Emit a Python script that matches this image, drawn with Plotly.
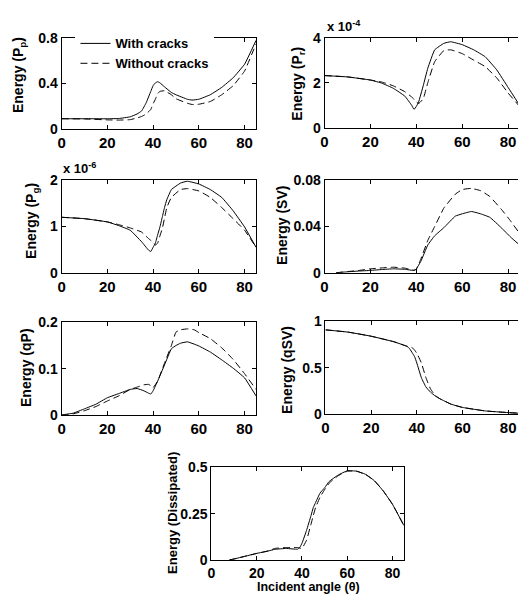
import plotly.graph_objects as go

# ---------------- data: energy partition vs incident angle (degrees) ----------------
pp_angle = [0, 10, 20, 25, 30, 33, 35, 37, 39, 40, 41, 42, 43, 45, 48, 50, 55, 57, 60, 65, 70, 75, 80, 85]
pp_with = [0.088, 0.088, 0.088, 0.09, 0.105, 0.13, 0.157, 0.23, 0.33, 0.38, 0.405, 0.415, 0.405, 0.37,
           0.32, 0.30, 0.26, 0.253, 0.26, 0.30, 0.365, 0.45, 0.57, 0.78]
pp_without = [0.088, 0.086, 0.078, 0.076, 0.08, 0.095, 0.108, 0.13, 0.17, 0.22, 0.26, 0.31, 0.33, 0.335,
              0.30, 0.265, 0.225, 0.214, 0.216, 0.24, 0.30, 0.38, 0.51, 0.75]

# P_r in units of 1e-4
pr_angle = [0, 10, 20, 25, 30, 35, 38, 39, 40, 41, 43, 45, 48, 52, 55, 60, 65, 70, 75, 80, 85]
pr_with = [2.33, 2.27, 2.13, 1.99, 1.76, 1.41, 1.0, 0.82, 0.95, 1.15, 1.87, 2.66, 3.48, 3.77, 3.84, 3.71,
           3.48, 3.17, 2.59, 1.80, 1.0]
pr_without = [2.33, 2.27, 2.13, 2.04, 1.87, 1.61, 1.37, 1.27, 1.15, 1.08, 1.29, 2.01, 2.95, 3.45, 3.48,
              3.31, 3.02, 2.73, 2.23, 1.55, 0.95]
pr_exponent = -4

# P_g in units of 1e-6
pg_angle = [0, 10, 20, 25, 30, 35, 38, 39, 40, 41, 42, 43, 44, 45, 46, 48, 52, 55, 60, 65, 70, 75, 80, 85]
pg_with = [1.20, 1.17, 1.10, 1.02, 0.92, 0.67, 0.49, 0.46, 0.55, 0.64, 0.82, 0.99, 1.2, 1.41, 1.58, 1.80,
           1.94, 1.98, 1.92, 1.80, 1.63, 1.34, 0.99, 0.55]
pg_without = [1.20, 1.17, 1.10, 1.04, 0.97, 0.88, 0.74, 0.70, 0.66, 0.60, 0.64, 0.80, 0.95, 1.18, 1.41,
              1.63, 1.80, 1.82, 1.77, 1.63, 1.41, 1.17, 0.92, 0.55]
pg_exponent = -6

sv_angle = [5, 10, 15, 20, 25, 30, 35, 39, 40, 42, 45, 48, 52, 57, 60, 64, 68, 72, 77, 81, 85]
sv_with = [0, 0.0008, 0.0015, 0.002, 0.0028, 0.0034, 0.003, 0.002, 0.0034, 0.01, 0.024, 0.032, 0.039,
           0.049, 0.051, 0.053, 0.051, 0.048, 0.039, 0.031, 0.024]
sv_without = [0, 0.001, 0.002, 0.0034, 0.0042, 0.0048, 0.004, 0.0022, 0.003, 0.012, 0.028, 0.040, 0.056,
              0.068, 0.072, 0.073, 0.071, 0.066, 0.055, 0.045, 0.034]

qp_angle = [0, 5, 10, 15, 20, 25, 30, 33, 36, 38, 39, 40, 42, 45, 48, 50, 52, 55, 58, 60, 65, 70, 75, 80, 85]
qp_with = [0, 0.0035, 0.013, 0.023, 0.037, 0.046, 0.055, 0.057, 0.052, 0.047, 0.045, 0.052, 0.073, 0.108,
           0.143, 0.150, 0.155, 0.158, 0.153, 0.149, 0.136, 0.119, 0.101, 0.080, 0.041]
qp_without = [0, 0.002, 0.009, 0.018, 0.030, 0.041, 0.055, 0.060, 0.065, 0.066, 0.063, 0.059, 0.073, 0.112,
              0.150, 0.179, 0.184, 0.186, 0.184, 0.178, 0.165, 0.145, 0.120, 0.089, 0.055]

qsv_angle = [0, 10, 20, 30, 35, 36, 37, 38, 39, 40, 42, 44, 46, 48, 50, 55, 60, 65, 70, 80, 85]
qsv_with = [0.909, 0.884, 0.84, 0.78, 0.737, 0.725, 0.70, 0.66, 0.62, 0.55, 0.39, 0.29, 0.235, 0.195,
            0.165, 0.105, 0.07, 0.05, 0.032, 0.014, 0.007]
qsv_without = [0.909, 0.884, 0.84, 0.78, 0.737, 0.73, 0.725, 0.716, 0.69, 0.656, 0.55, 0.39, 0.27, 0.20,
               0.165, 0.105, 0.07, 0.05, 0.032, 0.014, 0.007]

dis_angle = [8, 10, 15, 20, 25, 28, 33, 38, 39, 40, 42, 44, 45, 46, 48, 50, 52, 56, 60, 64, 68, 72, 76, 80, 85]
dis_with = [0, 0.005, 0.02, 0.035, 0.048, 0.057, 0.062, 0.058, 0.067, 0.09, 0.159, 0.24, 0.283, 0.31,
            0.362, 0.39, 0.424, 0.459, 0.482, 0.48, 0.463, 0.428, 0.371, 0.30, 0.186]
dis_without = [0, 0.005, 0.02, 0.035, 0.048, 0.062, 0.067, 0.067, 0.064, 0.062, 0.106, 0.194, 0.24, 0.283,
               0.34, 0.38, 0.415, 0.455, 0.48, 0.48, 0.463, 0.428, 0.371, 0.30, 0.186]

x_ticks = [0, 20, 40, 60, 80]
series_names = ["With cracks", "Without cracks"]

# panel definitions: (angles, with, without, y range, y ticks, y tick labels, y title)
panels = [
    (pp_angle, pp_with, pp_without, [0, 0.8], [0, 0.4, 0.8], ["0", "0.4", "0.8"], "Energy (P<sub>p</sub>)"),
    (pr_angle, pr_with, pr_without, [0, 4], [0, 2, 4], ["0", "2", "4"], "Energy (P<sub>r</sub>)"),
    (pg_angle, pg_with, pg_without, [0, 2], [0, 1, 2], ["0", "1", "2"], "Energy (P<sub>g</sub>)"),
    (sv_angle, sv_with, sv_without, [0, 0.08], [0, 0.04, 0.08], ["0", "0.04", "0.08"], "Energy (SV)"),
    (qp_angle, qp_with, qp_without, [0, 0.2], [0, 0.1, 0.2], ["0", "0.1", "0.2"], "Energy (qP)"),
    (qsv_angle, qsv_with, qsv_without, [0, 1], [0, 0.5, 1], ["0", "0.5", "1"], "Energy (qSV)"),
    (dis_angle, dis_with, dis_without, [0, 0.5], [0, 0.25, 0.5], ["0", "0.25", "0.5"], "Energy (Dissipated)"),
]

# ---------------- layout geometry (pixels) ----------------
W, H = 518, 601
boxes = [  # left, right, top, bottom
    (58, 254, 31, 124),
    (323, 518, 31, 123),
    (58, 254, 177, 272),
    (323, 518, 177, 272),
    (58, 254, 323, 418),
    (324, 518, 322, 417),
    (209, 403, 472, 567),
]
# panels in the right column run off the page edge, so their x range is cut short
x_ranges = [[0, 85], [0, 84.3], [0, 85], [0, 84.3], [0, 85], [0, 84.3], [0, 85]]
right_column = [False, True, False, True, False, True, False]
x_tick_size = [15, 15, 15, 15, 15, 15, 14]
ytitle_pos = [(15, 69), (296, 78), (28, 219), (280, 223), (22, 369), (285, 372), (169, 519)]

FONT = "Liberation Sans, Arial, sans-serif"
dash_pattern = "7px,4px"

fig = go.Figure()
layout = dict(
    width=W, height=H,
    margin=dict(l=0, r=0, t=0, b=0),
    paper_bgcolor="white", plot_bgcolor="white",
    font=dict(family=FONT, color="black", size=14, weight="bold"),
    showlegend=True,
    legend=dict(
        x=72 / W, y=1 - 21 / H, xanchor="left", yanchor="top",
        bgcolor="white", borderwidth=0,
        font=dict(family=FONT, size=13, color="black", weight="bold"),
        tracegroupgap=0, itemwidth=30,
    ),
    annotations=[],
)

for i, (ang, yw, yn, yr, yt, ytl, ytitle) in enumerate(panels):
    n = i + 1
    xa = "x" if n == 1 else f"x{n}"
    ya = "y" if n == 1 else f"y{n}"
    fig.add_trace(go.Scatter(x=ang, y=yw, mode="lines", name=series_names[0],
                             line=dict(color="black", width=1, shape="spline", smoothing=0.3),
                             xaxis=xa, yaxis=ya, showlegend=(n == 1)))
    fig.add_trace(go.Scatter(x=ang, y=yn, mode="lines", name=series_names[1],
                             line=dict(color="black", width=1, dash=dash_pattern, shape="spline", smoothing=0.3),
                             xaxis=xa, yaxis=ya, showlegend=(n == 1)))
    l, r, t, b = boxes[i]
    xkey = "xaxis" if n == 1 else f"xaxis{n}"
    ykey = "yaxis" if n == 1 else f"yaxis{n}"
    layout[xkey] = dict(
        domain=[l / W, r / W], range=x_ranges[i], anchor=ya,
        tickvals=x_ticks, ticks="inside", ticklen=4, tickcolor="black",
        showline=True, linecolor="black", linewidth=1, mirror="ticks",
        showgrid=False, zeroline=False,
        tickfont=dict(family=FONT, size=x_tick_size[i], color="black", weight="bold"),
    )
    layout[ykey] = dict(
        domain=[1 - b / H, 1 - t / H], range=yr, anchor=xa,
        tickvals=yt, ticktext=ytl, ticks="inside", ticklen=4, tickcolor="black",
        showline=True, linecolor="black", linewidth=1,
        mirror=False if right_column[i] else "ticks",
        showgrid=False, zeroline=False,
        tickfont=dict(family=FONT, size=14, color="black", weight="bold"),
    )
    tx, ty = ytitle_pos[i]
    layout["annotations"].append(dict(
        text=ytitle, x=tx / W, y=1 - ty / H, xref="paper", yref="paper",
        textangle=-90, showarrow=False, xanchor="center", yanchor="middle",
        font=dict(family=FONT, size=13 if n == 7 else 14, color="black", weight="bold"),
    ))

# axis multipliers
for (px, py, expo) in [(323, 18, pr_exponent), (57, 164, pg_exponent)]:
    layout["annotations"].append(dict(
        text=f"x 10<sup>{expo}</sup>", x=px / W, y=1 - py / H, xref="paper", yref="paper",
        showarrow=False, xanchor="left", yanchor="middle",
        font=dict(family=FONT, size=13, color="black", weight="bold"),
    ))

# shared x title under the bottom panel
layout["annotations"].append(dict(
    text="Incident angle (θ)", x=307 / W, y=1 - 595 / H, xref="paper", yref="paper",
    showarrow=False, xanchor="center", yanchor="middle",
    font=dict(family=FONT, size=12.5, color="black", weight="bold"),
))

fig.update_layout(**layout)
fig.write_html("out.html")
